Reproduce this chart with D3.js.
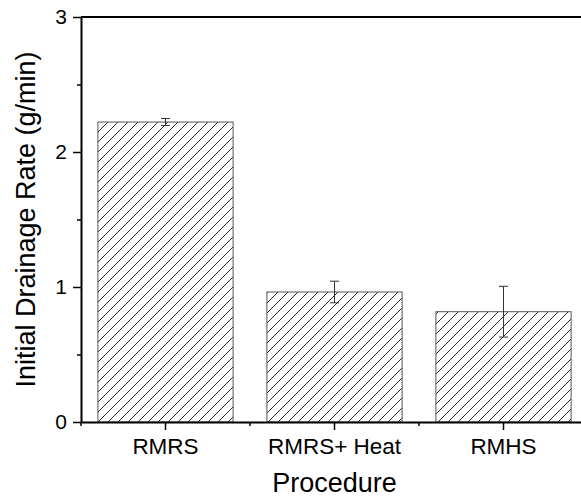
<!DOCTYPE html>
<html>
<head>
<meta charset="utf-8">
<script src="https://cdn.jsdelivr.net/npm/d3@7"></script>
<style>
    body { margin: 0; background: #fff; }
    svg { display: block; font-family: "Liberation Sans", Arial, sans-serif; }
</style>
</head>
<body>
<div id="chart"></div>
<script>

const procedures = ["RMRS", "RMRS+ Heat", "RMHS"];
const rates = [2.222, 0.963, 0.817];
const errors = [0.026, 0.08, 0.188];
const yTicks = [0, 1, 2, 3];
const yMinorTicks = [0.5, 1.5, 2.5];

const width = 581, height = 497;
const plotLeft = 81, plotRight = 588, plotTop = 17, plotBottom = 422;

const svg = d3.select('#chart')
    .append('svg')
    .attr('width', width)
    .attr('height', height);

// diagonal hatch used by every bar
svg.append('defs')
    .append('pattern')
    .attr('id', 'hatch')
    .attr('patternUnits', 'userSpaceOnUse')
    .attr('width', 10)
    .attr('height', 10)
    .append('path')
    .attr('d', 'M0,10 L10,0 M-2,2 L2,-2 M8,12 L12,8')
    .attr('stroke', '#111')
    .attr('stroke-width', 0.9)
    .attr('fill', 'none');

const x = d3.scaleBand()
    .domain(procedures)
    .range([plotLeft, plotRight])
    .paddingInner(0.2)
    .paddingOuter(0.1);

const y = d3.scaleLinear()
    .domain([0, 3])
    .range([plotBottom, plotTop]);

const data = procedures.map((p, i) => ({ name: p, value: rates[i], err: errors[i] }));

// bars
svg.selectAll('rect.bar')
    .data(data)
    .enter()
        .append('rect')
        .attr('class', 'bar')
        .attr('x', d => x(d.name))
        .attr('y', d => y(d.value))
        .attr('width', x.bandwidth())
        .attr('height', d => y(0) - y(d.value))
        .attr('fill', 'url(#hatch)')
        .attr('stroke', '#555')
        .attr('stroke-width', 1);

// error bars
const eb = svg.selectAll('g.err')
    .data(data)
    .enter()
        .append('g')
        .attr('class', 'err')
        .attr('stroke', '#333')
        .attr('stroke-width', 1);

eb.append('line')
    .attr('x1', d => x(d.name) + x.bandwidth() / 2)
    .attr('x2', d => x(d.name) + x.bandwidth() / 2)
    .attr('y1', d => y(d.value + d.err))
    .attr('y2', d => y(d.value - d.err));

[1, -1].forEach(s => {
    eb.append('line')
        .attr('x1', d => x(d.name) + x.bandwidth() / 2 - 4.5)
        .attr('x2', d => x(d.name) + x.bandwidth() / 2 + 4.5)
        .attr('y1', d => y(d.value + s * d.err))
        .attr('y2', d => y(d.value + s * d.err));
});

// top frame line
svg.append('line')
    .attr('x1', plotLeft).attr('x2', plotRight)
    .attr('y1', plotTop).attr('y2', plotTop)
    .attr('stroke', '#000')
    .attr('stroke-width', 2);

// y axis
const yAxis = svg.append('g')
    .attr('transform', `translate(${plotLeft},0)`)
    .call(d3.axisLeft(y).tickValues(yTicks).tickFormat(d3.format('d')).tickSize(8).tickPadding(6).tickSizeOuter(0));

svg.append('g')
    .attr('transform', `translate(${plotLeft},0)`)
    .call(d3.axisLeft(y).tickValues(yMinorTicks).tickFormat('').tickSize(4).tickSizeOuter(0))
    .call(g => g.select('.domain').remove());

// x axis
const xAxis = svg.append('g')
    .attr('transform', `translate(0,${plotBottom})`)
    .call(d3.axisBottom(x).tickSize(8).tickPadding(8).tickSizeOuter(0));

const bounds = d3.range(procedures.length + 1).map(i => plotLeft + i * x.step());
svg.append('g')
    .selectAll('line')
    .data(bounds)
    .enter()
        .append('line')
        .attr('x1', d => d).attr('x2', d => d)
        .attr('y1', plotBottom).attr('y2', plotBottom + 4)
        .attr('stroke', '#000')
        .attr('stroke-width', 1.5);

svg.selectAll('.domain').attr('stroke', '#000').attr('stroke-width', 2);
svg.selectAll('.tick line').attr('stroke', '#000').attr('stroke-width', 1.5);
svg.selectAll('g').attr('font-family', null);
yAxis.selectAll('text').attr('font-size', 21).attr('fill', '#000');
xAxis.selectAll('text').attr('font-size', 22.5).attr('fill', '#000');

// axis titles
svg.append('text')
    .attr('x', (plotLeft + plotRight) / 2)
    .attr('y', 492)
    .attr('text-anchor', 'middle')
    .attr('font-size', 27)
    .text('Procedure');

svg.append('text')
    .attr('transform', `translate(35,${(plotTop + plotBottom) / 2}) rotate(-90)`)
    .attr('text-anchor', 'middle')
    .attr('font-size', 27)
    .text('Initial Drainage Rate (g/min)');

</script>
</body>
</html>
